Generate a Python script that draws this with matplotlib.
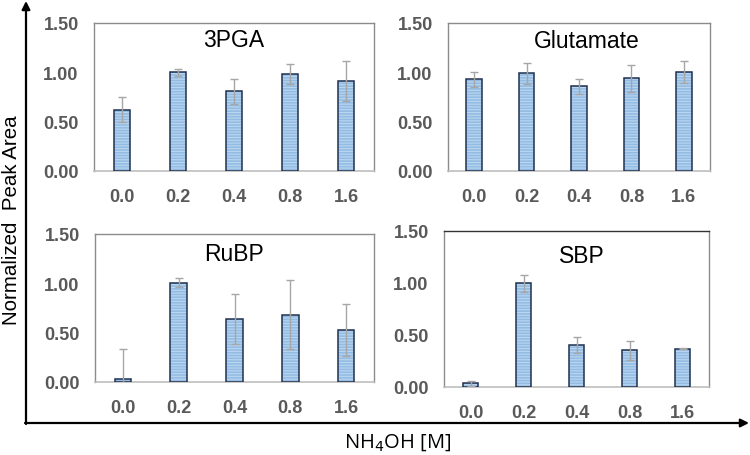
import matplotlib
matplotlib.use("Agg")
import matplotlib.pyplot as plt
import numpy as np

plt.rcParams['font.family'] = ['Liberation Sans', 'DejaVu Sans']
plt.rcParams['hatch.linewidth'] = 0.8

categories = ["0.0", "0.2", "0.4", "0.8", "1.6"]
yticks = [0.0, 0.5, 1.0, 1.5]
ytick_labels = ["0.00", "0.50", "1.00", "1.50"]

titles = ["3PGA", "Glutamate", "RuBP", "SBP"]
pga_vals = [0.62, 1.00, 0.806, 0.982, 0.914]
pga_err = [0.125, 0.035, 0.13, 0.10, 0.20]
glu_vals = [0.928, 0.989, 0.857, 0.938, 1.002]
glu_err = [0.075, 0.11, 0.08, 0.135, 0.11]
rubp_vals = [0.027, 1.006, 0.637, 0.684, 0.528]
rubp_err = [0.31, 0.045, 0.25, 0.35, 0.26]
sbp_vals = [0.035, 0.997, 0.407, 0.353, 0.369]
sbp_err = [0.023, 0.083, 0.077, 0.093, 0.005]

series = [(pga_vals, pga_err), (glu_vals, glu_err), (rubp_vals, rubp_err), (sbp_vals, sbp_err)]

W, H = 750, 456
fig = plt.figure(figsize=(W / 100, H / 100), dpi=100)

# panel pixel boxes: (left, top, right, bottom)
boxes = [(94, 24, 374, 172), (448, 24, 710, 172), (95, 235, 374, 383), (444, 232, 709, 388)]
title_pos = [(0.5, 0.89), (0.53, 0.88), (0.5, 0.865), (0.52, 0.84)]

bar_face = "#92BCE4"
stripe = "#BCD6EF"
bar_edge = "#1F3050"
tick_color = "#595959"

for i, ((l, t, r, b), (vals, errs)) in enumerate(zip(boxes, series)):
    ax = fig.add_axes([l / W, (H - b) / H, (r - l) / W, (b - t) / H])
    x = np.arange(len(categories))
    ax.bar(x, vals, width=0.3, color=bar_face, edgecolor=stripe, hatch='------', linewidth=0, zorder=2)
    ax.bar(x, vals, width=0.3, color='none', edgecolor=bar_edge, linewidth=1.1, zorder=3)
    ax.errorbar(x, vals, yerr=errs, fmt='none', ecolor="#A6A6A6", elinewidth=1.0, capsize=3, capthick=1.0, zorder=4)
    ax.set_xlim(-0.5, len(categories) - 0.5)
    ax.set_ylim(0, 1.5)
    ax.set_yticks(yticks)
    ax.set_yticklabels(ytick_labels)
    ax.set_xticks(x)
    ax.set_xticklabels(categories)
    ax.tick_params(axis='both', length=0, labelsize=13, colors=tick_color)
    ax.tick_params(axis='x', pad=12)
    ax.tick_params(axis='y', pad=11)
    for lab in ax.get_xticklabels() + ax.get_yticklabels():
        lab.set_fontweight('bold')
    for side in ['left', 'right', 'top']:
        ax.spines[side].set_color("#8C8C8C")
        ax.spines[side].set_linewidth(1.0)
    ax.spines['bottom'].set_color("#BFBFBF")
    ax.spines['bottom'].set_linewidth(1.2)
    if i == 3:
        ax.spines['top'].set_color("#333333")
    ax.text(title_pos[i][0], title_pos[i][1], titles[i], transform=ax.transAxes,
            ha='center', va='center', fontsize=16.5, color='black')

# overall axis arrows and labels
bg = fig.add_axes([0, 0, 1, 1], zorder=-1)
bg.set_xlim(0, W)
bg.set_ylim(H, 0)
bg.axis('off')
bg.annotate("", xy=(26, 2), xytext=(26, 425),
            arrowprops=dict(arrowstyle='-|>', color='black', lw=1.6, mutation_scale=12, shrinkA=0, shrinkB=0))
bg.annotate("", xy=(749, 424), xytext=(25, 424),
            arrowprops=dict(arrowstyle='-|>', color='black', lw=1.6, mutation_scale=12, shrinkA=0, shrinkB=0))
fig.text(12 / W, 1 - 220 / H, "Normalized  Peak Area", rotation=90, ha='center', va='center', fontsize=14.8)
fig.text(398 / W, 1 - 443 / H, r"NH$_4$OH [M]", ha='center', va='center', fontsize=14.5,
         family=['Open Sans', 'DejaVu Sans'], math_fontfamily='dejavusans')

fig.savefig("out.png", dpi=100)
